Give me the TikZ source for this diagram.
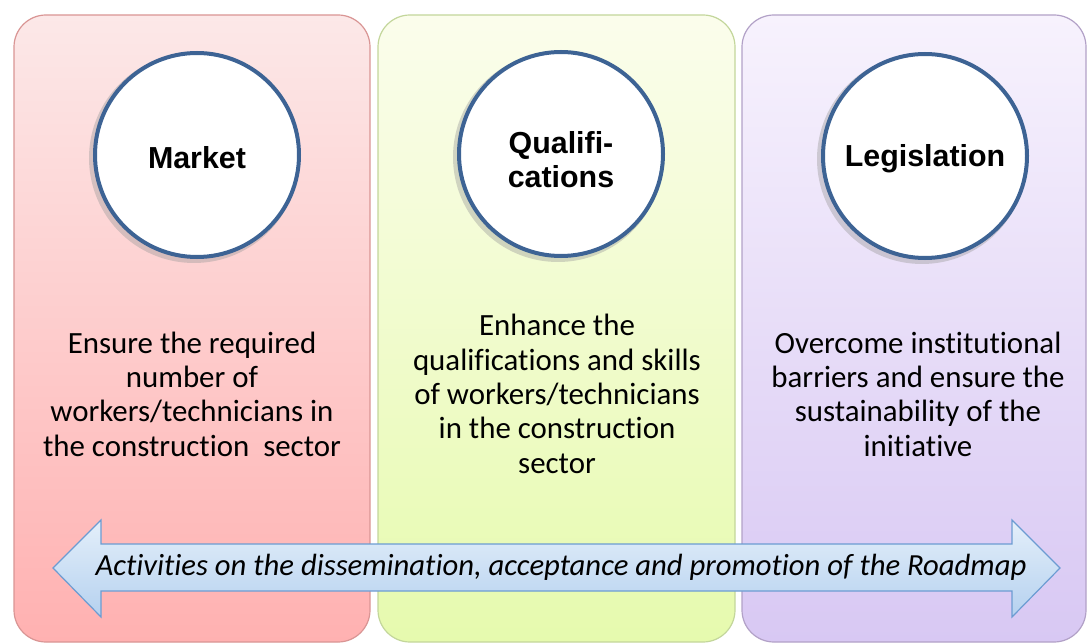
\documentclass[tikz,border=0pt]{standalone}
\usepackage{fontspec}
\setmainfont[Ligatures=CommonOff]{Carlito}
\newfontfamily\headfont{Liberation Sans}
\usetikzlibrary{calc}
\definecolor{redtop}{HTML}{FCE8E8}
\definecolor{redbot}{HTML}{FFB1B1}
\definecolor{redline}{HTML}{D99594}
\definecolor{grntop}{HTML}{FBFDEC}
\definecolor{grnbot}{HTML}{E6FAAE}
\definecolor{grnline}{HTML}{C3D69B}
\definecolor{purtop}{HTML}{F7F2FD}
\definecolor{purbot}{HTML}{D8C8F3}
\definecolor{purline}{HTML}{B2A1C7}
\definecolor{ringblue}{HTML}{3D6394}
\definecolor{arrtop}{HTML}{E4EFFA}
\definecolor{arrbot}{HTML}{B5D1EF}
\definecolor{arrline}{HTML}{6C9CD2}
\tikzset{
  panel/.style={rounded corners=32bp, line width=1.2bp},
  ring/.style={circle, minimum size=204bp, inner sep=0pt, fill=white, draw=ringblue, line width=4bp},
  ringshadow/.style={fill=black!40, opacity=0.4},
  head/.style={font=\headfont\bfseries\fontsize{30.5}{34}\selectfont, align=center, inner sep=0pt},
  body/.style={align=center, font=\fontsize{31}{34.5}\selectfont, text=black},
}
\begin{document}
\begin{tikzpicture}[x=1bp,y=-1bp]
\useasboundingbox (0,0) rectangle (1088,644);
% panels
\shade[panel, top color=redtop, bottom color=redbot] (14,15) rectangle (370,642);
\draw[panel, redline] (14,15) rectangle (370,642);
\shade[panel, top color=grntop, bottom color=grnbot] (378,15) rectangle (735,642);
\draw[panel, grnline] (378,15) rectangle (735,642);
\shade[panel, top color=purtop, bottom color=purbot] (742,15) rectangle (1086,642);
\draw[panel, purline] (742,15) rectangle (1086,642);
% circle shadows
\coordinate (cm) at (197,155);
\coordinate (cq) at (561,154);
\coordinate (cl) at (925,156);
\fill[ringshadow] ($(cm)+(-3,3)$) circle (105);
\fill[ringshadow] ($(cq)+(-3,3)$) circle (105);
\fill[ringshadow] ($(cl)+(-3,3)$) circle (105);
% circles
\node[ring] (market) at (cm) {};
\node[ring] (qual) at (cq) {};
\node[ring] (legis) at (cl) {};
\node[head] (marketlbl) at ($(market)+(0,3)$) {Market};
\node[head] (quallbl) at ($(qual)+(0,6)$) {Qualifi-\\cations};
\node[head] (legislbl) at ($(legis)+(0,3)$) {Legislation};
% texts
\node[body] (t1) at (192,394) {Ensure the required\\number of\\workers/technicians in\\the construction\ \ sector};
\node[body] (t2) at (557,394) {Enhance the\\qualifications and skills\\of workers/technicians\\in the construction\\sector};
\node[body] (t3) at (918,394) {Overcome institutional\\barriers and ensure the\\sustainability of the\\initiative};
% double arrow
\coordinate (lt) at (53,568);
\coordinate (rt) at (1060,568);
\shade[top color=arrtop, bottom color=arrbot, draw=arrline, line width=1.2bp]
  (lt) -- (101,520) -- (101,544) -- (1012,544) -- (1012,520) -- (rt) -- (1012,617) -- (1012,591) -- (101,591) -- (101,617) -- cycle;
\node[font=\itshape\fontsize{30.8}{34}\selectfont] (act) at (561,567) {Activities on the dissemination, acceptance and promotion of the Roadmap};
\end{tikzpicture}
\end{document}
